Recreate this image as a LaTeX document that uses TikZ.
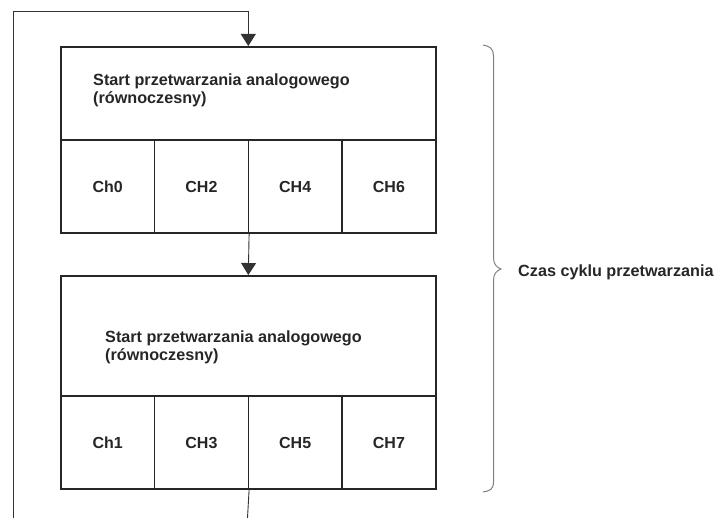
\documentclass[tikz,border=0pt]{standalone}
\usepackage{fontspec}
\setmainfont{Liberation Sans}
\usetikzlibrary{arrows.meta}
\begin{document}
\begin{tikzpicture}[x=1pt,y=-1pt,
  box/.style={draw=black!85,line width=1.6pt,minimum width=375pt,inner sep=0pt,anchor=north west},
  cell/.style={draw=black!85,line width=1.6pt,minimum width=93.75pt,minimum height=93pt,inner sep=0pt,text height=11.6pt,text depth=0pt,anchor=north west,font=\bfseries\fontsize{16}{18}\selectfont,text=black!85},
  hdr/.style={anchor=north west,inner sep=0pt,align=left,font=\bfseries\fontsize{16.2}{18.5}\selectfont,text=black!85},
  conn/.style={draw=black!80,line width=0.9pt},
  tip/.style={-{Triangle[length=12pt,width=15pt]}},
  brace/.style={draw=black!50,line width=1pt}]
\useasboundingbox (0,0) rectangle (718,518);
% block 1
\node[box,minimum height=93pt] (h1) at (60,46) {};
\node[cell] (c0) at (60,139) {Ch0};
\node[cell] (c2) at (153.75,139) {CH2};
\node[cell] (c4) at (247.5,139) {CH4};
\node[cell] (c6) at (341.25,139) {CH6};
\node[hdr] (t1) at (93,73.5) {Start przetwarzania analogowego\\(równoczesny)};
% block 2
\node[box,minimum height=120pt] (h2) at (60,275) {};
\node[cell] (c1) at (60,395) {Ch1};
\node[cell] (c3) at (153.75,395) {CH3};
\node[cell] (c5) at (247.5,395) {CH5};
\node[cell] (c7) at (341.25,395) {CH7};
\node[hdr] (t2) at (105,330.5) {Start przetwarzania analogowego\\(równoczesny)};
% connectors
\coordinate (bl) at (13,518);
\coordinate (tl) at (13,11);
\coordinate (bot) at (247.5,518);
\draw[conn,tip] (bl) -- (tl) -| (h1.north);
\draw[conn,tip] (c2.south east) -- (h2.north);
\draw[conn] (c3.south east) -- (bot);
% brace
\draw[brace] (483,45) .. controls (490,46) and (493.5,49) .. (493.5,56)
  -- (493.5,257) .. controls (493.5,264) and (496,267) .. (501,269)
  .. controls (496,271) and (493.5,274) .. (493.5,281)
  -- (493.5,482) .. controls (493.5,489) and (490,491) .. (483,492);
\node[anchor=west,inner sep=0pt,font=\bfseries\fontsize{16.2}{18}\selectfont,text=black!85] (lab) at (518,272) {Czas cyklu przetwarzania};
\end{tikzpicture}
\end{document}
